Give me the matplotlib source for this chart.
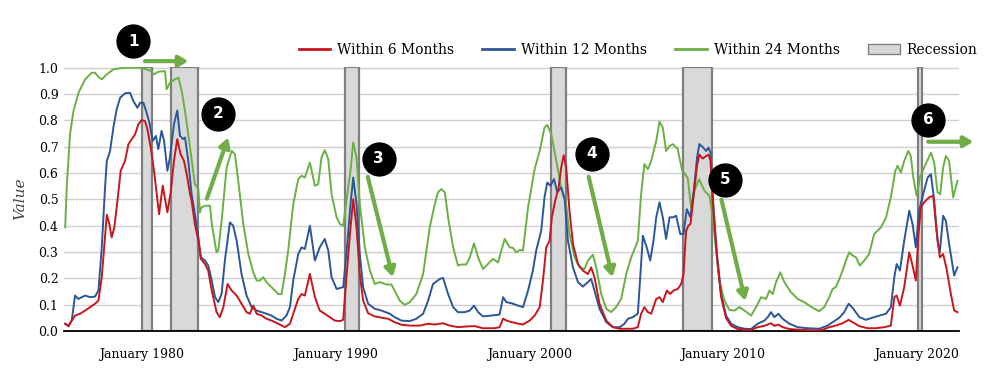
import matplotlib
matplotlib.use("Agg")
import matplotlib.pyplot as plt
from matplotlib.lines import Line2D
from matplotlib.patches import Patch

# ── Data ──────────────────────────────────────────────────────────────
green_t = [1976.03, 1976.11, 1976.28, 1976.46, 1976.72, 1977.06, 1977.40, 1977.57, 1977.75, 1977.92,
           1978.18, 1978.52, 1979.04, 1979.90, 1980.41, 1980.62, 1980.84, 1981.19, 1981.27, 1981.44,
           1981.70, 1981.88, 1982.05, 1982.22, 1982.48, 1982.73, 1982.91, 1982.99, 1983.08, 1983.25,
           1983.51, 1983.60, 1983.85, 1983.94, 1984.11, 1984.37, 1984.63, 1984.80, 1984.97, 1985.23,
           1985.49, 1985.75, 1985.92, 1986.09, 1986.26, 1986.43, 1986.69, 1987.04, 1987.21, 1987.38,
           1987.55, 1987.81, 1988.07, 1988.24, 1988.41, 1988.67, 1988.93, 1989.10, 1989.27, 1989.44,
           1989.62, 1989.79, 1990.05, 1990.22, 1990.39, 1990.56, 1990.77, 1990.91, 1991.08, 1991.25,
           1991.51, 1991.77, 1992.02, 1992.28, 1992.63, 1992.88, 1993.05, 1993.31, 1993.57, 1993.83,
           1994.17, 1994.52, 1994.86, 1995.12, 1995.29, 1995.46, 1995.64, 1995.81, 1996.07, 1996.32,
           1996.50, 1996.75, 1996.93, 1997.15, 1997.36, 1997.61, 1997.87, 1998.13, 1998.39, 1998.56,
           1998.73, 1998.99, 1999.16, 1999.33, 1999.51, 1999.68, 1999.94, 2000.28, 2000.54, 2000.79,
           2000.93, 2001.14, 2001.40, 2001.65, 2001.91, 2002.08, 2002.34, 2002.60, 2002.86, 2003.03,
           2003.29, 2003.46, 2003.72, 2003.98, 2004.23, 2004.49, 2004.75, 2005.01, 2005.27, 2005.44,
           2005.61, 2005.78, 2005.95, 2006.13, 2006.30, 2006.56, 2006.73, 2006.90, 2007.07, 2007.25,
           2007.42, 2007.67, 2007.90, 2008.02, 2008.19, 2008.36, 2008.50, 2008.77, 2009.05, 2009.31,
           2009.48, 2009.65, 2009.82, 2010.08, 2010.34, 2010.60, 2010.86, 2011.12, 2011.46, 2011.72,
           2011.98, 2012.23, 2012.41, 2012.58, 2012.75, 2012.97, 2013.18, 2013.52, 2013.87, 2014.21,
           2014.47, 2014.73, 2014.98, 2015.24, 2015.50, 2015.67, 2015.84, 2016.02, 2016.19, 2016.36,
           2016.53, 2016.71, 2016.88, 2017.08, 2017.31, 2017.56, 2017.82, 2017.99, 2018.17, 2018.43,
           2018.68, 2018.91, 2019.03, 2019.20, 2019.37, 2019.58, 2019.71, 2019.84, 2020.01, 2020.18,
           2020.40, 2020.75, 2020.92, 2021.09, 2021.23, 2021.38, 2021.52, 2021.69, 2021.90, 2022.12]
green_v = [0.394, 0.545, 0.747, 0.836, 0.905, 0.956, 0.981, 0.981, 0.965, 0.956,
           0.975, 0.994, 1.000, 1.000, 0.990, 0.975, 0.985, 0.987, 0.918, 0.943,
           0.956, 0.962, 0.912, 0.836, 0.697, 0.558, 0.539, 0.451, 0.470, 0.476,
           0.476, 0.407, 0.299, 0.306, 0.419, 0.621, 0.684, 0.672, 0.571, 0.407,
           0.293, 0.223, 0.192, 0.192, 0.205, 0.186, 0.167, 0.141, 0.141, 0.217,
           0.306, 0.482, 0.577, 0.590, 0.583, 0.640, 0.552, 0.558, 0.659, 0.687,
           0.653, 0.520, 0.432, 0.407, 0.400, 0.495, 0.609, 0.716, 0.659, 0.482,
           0.318, 0.230, 0.179, 0.186, 0.177, 0.177, 0.154, 0.116, 0.100, 0.110,
           0.141, 0.217, 0.394, 0.482, 0.527, 0.539, 0.527, 0.432, 0.318, 0.249,
           0.253, 0.253, 0.280, 0.333, 0.280, 0.236, 0.255, 0.274, 0.261, 0.306,
           0.350, 0.318, 0.316, 0.299, 0.308, 0.306, 0.470, 0.615, 0.684, 0.773,
           0.783, 0.747, 0.646, 0.545, 0.482, 0.369, 0.280, 0.242, 0.236, 0.268,
           0.290, 0.242, 0.141, 0.085, 0.072, 0.091, 0.122, 0.217, 0.280, 0.312,
           0.343, 0.520, 0.634, 0.615, 0.646, 0.722, 0.795, 0.773, 0.684, 0.703,
           0.710, 0.691, 0.609, 0.600, 0.580, 0.470, 0.527, 0.577, 0.533, 0.514,
           0.432, 0.306, 0.192, 0.116, 0.081, 0.078, 0.091, 0.078, 0.059, 0.091,
           0.129, 0.122, 0.154, 0.141, 0.186, 0.223, 0.186, 0.148, 0.122, 0.110,
           0.097, 0.085, 0.076, 0.091, 0.129, 0.160, 0.167, 0.198, 0.230, 0.268,
           0.299, 0.287, 0.280, 0.249, 0.268, 0.293, 0.369, 0.381, 0.394, 0.432,
           0.508, 0.609, 0.628, 0.602, 0.646, 0.684, 0.665, 0.583, 0.514, 0.583,
           0.621, 0.678, 0.640, 0.527, 0.520, 0.621, 0.665, 0.646, 0.508, 0.571]

blue_t = [1976.03, 1976.20, 1976.37, 1976.54, 1976.71, 1976.89, 1977.06, 1977.32, 1977.57, 1977.75,
          1977.92, 1978.09, 1978.18, 1978.35, 1978.52, 1978.69, 1978.87, 1979.12, 1979.38, 1979.55,
          1979.76, 1979.90, 1980.07, 1980.21, 1980.38, 1980.55, 1980.72, 1980.84, 1981.01, 1981.14,
          1981.31, 1981.44, 1981.65, 1981.82, 1981.96, 1982.13, 1982.22, 1982.39, 1982.56, 1982.73,
          1982.91, 1983.04, 1983.25, 1983.42, 1983.60, 1983.77, 1983.94, 1984.11, 1984.28, 1984.54,
          1984.71, 1984.89, 1985.14, 1985.40, 1985.66, 1985.92, 1986.18, 1986.43, 1986.69, 1986.95,
          1987.21, 1987.46, 1987.64, 1987.81, 1988.07, 1988.24, 1988.41, 1988.67, 1988.93, 1989.18,
          1989.44, 1989.62, 1989.79, 1990.05, 1990.39, 1990.56, 1990.77, 1990.91, 1991.08, 1991.25,
          1991.42, 1991.68, 1992.02, 1992.37, 1992.80, 1993.05, 1993.40, 1993.83, 1994.17, 1994.52,
          1994.78, 1995.03, 1995.38, 1995.55, 1995.81, 1996.07, 1996.32, 1996.67, 1996.93, 1997.15,
          1997.36, 1997.61, 1998.04, 1998.47, 1998.65, 1998.82, 1999.08, 1999.42, 1999.68, 1999.94,
          2000.19, 2000.36, 2000.62, 2000.79, 2000.93, 2001.10, 2001.28, 2001.45, 2001.65, 2001.83,
          2002.00, 2002.26, 2002.52, 2002.77, 2003.03, 2003.20, 2003.37, 2003.63, 2003.98, 2004.32,
          2004.67, 2004.92, 2005.10, 2005.35, 2005.61, 2005.78, 2005.87, 2006.07, 2006.25, 2006.42,
          2006.56, 2006.73, 2006.90, 2007.07, 2007.25, 2007.42, 2007.59, 2007.80, 2007.97, 2008.14,
          2008.33, 2008.50, 2008.67, 2008.79, 2008.96, 2009.14, 2009.26, 2009.36, 2009.53, 2009.70,
          2009.91, 2010.17, 2010.43, 2010.77, 2011.12, 2011.46, 2011.80, 2012.15, 2012.32, 2012.49,
          2012.66, 2012.87, 2013.09, 2013.44, 2013.87, 2014.38, 2014.98, 2015.41, 2015.67, 2016.02,
          2016.27, 2016.50, 2016.71, 2017.05, 2017.39, 2017.74, 2018.08, 2018.43, 2018.68, 2018.86,
          2018.98, 2019.15, 2019.37, 2019.63, 2019.80, 2019.97, 2020.14, 2020.35, 2020.58, 2020.75,
          2020.92, 2021.09, 2021.21, 2021.38, 2021.52, 2021.69, 2021.95, 2022.12]
blue_v = [0.028, 0.021, 0.040, 0.135, 0.122, 0.129, 0.135, 0.129, 0.131, 0.154,
          0.318, 0.545, 0.646, 0.684, 0.773, 0.842, 0.886, 0.903, 0.905, 0.874,
          0.848, 0.867, 0.867, 0.836, 0.792, 0.722, 0.741, 0.691, 0.760, 0.722,
          0.609, 0.659, 0.785, 0.838, 0.741, 0.729, 0.735, 0.646, 0.520, 0.444,
          0.356, 0.280, 0.268, 0.249, 0.192, 0.129, 0.110, 0.141, 0.268, 0.413,
          0.400, 0.343, 0.217, 0.135, 0.091, 0.078, 0.072, 0.066, 0.059, 0.047,
          0.040, 0.059, 0.091, 0.192, 0.293, 0.318, 0.312, 0.400, 0.268, 0.318,
          0.350, 0.306, 0.205, 0.160, 0.167, 0.293, 0.482, 0.583, 0.482, 0.293,
          0.167, 0.104, 0.085, 0.078, 0.066, 0.053, 0.040, 0.038, 0.047, 0.066,
          0.116, 0.179, 0.198, 0.202, 0.141, 0.091, 0.072, 0.072, 0.078, 0.097,
          0.072, 0.056, 0.059, 0.063, 0.129, 0.110, 0.106, 0.097, 0.091, 0.154,
          0.230, 0.306, 0.381, 0.508, 0.564, 0.552, 0.577, 0.527, 0.545, 0.501,
          0.343, 0.242, 0.186, 0.169, 0.186, 0.198, 0.154, 0.085, 0.034, 0.015,
          0.015, 0.028, 0.047, 0.053, 0.066, 0.255, 0.362, 0.318, 0.268, 0.343,
          0.432, 0.489, 0.432, 0.350, 0.432, 0.432, 0.438, 0.369, 0.369, 0.463,
          0.432, 0.533, 0.659, 0.710, 0.699, 0.684, 0.697, 0.678, 0.457, 0.293,
          0.141, 0.059, 0.028, 0.015, 0.009, 0.008, 0.028, 0.040, 0.053, 0.072,
          0.053, 0.066, 0.047, 0.028, 0.015, 0.011, 0.009, 0.021, 0.034, 0.051,
          0.072, 0.104, 0.088, 0.053, 0.043, 0.051, 0.059, 0.066, 0.091, 0.205,
          0.255, 0.230, 0.343, 0.457, 0.407, 0.318, 0.457, 0.520, 0.583, 0.596,
          0.495, 0.343, 0.299, 0.438, 0.419, 0.331, 0.211, 0.242]

red_t = [1976.03, 1976.20, 1976.37, 1976.54, 1976.80, 1977.06, 1977.32, 1977.57, 1977.75, 1977.92,
         1978.09, 1978.18, 1978.31, 1978.43, 1978.57, 1978.73, 1978.90, 1979.12, 1979.30, 1979.47,
         1979.64, 1979.81, 1979.98, 1980.15, 1980.28, 1980.45, 1980.62, 1980.76, 1980.88, 1981.07,
         1981.24, 1981.31, 1981.48, 1981.65, 1981.82, 1981.99, 1982.17, 1982.34, 1982.48, 1982.56,
         1982.73, 1982.91, 1983.04, 1983.25, 1983.42, 1983.60, 1983.85, 1984.02, 1984.20, 1984.42,
         1984.63, 1984.89, 1985.14, 1985.40, 1985.57, 1985.75, 1985.92, 1986.18, 1986.43, 1986.69,
         1987.04, 1987.38, 1987.64, 1987.81, 1988.07, 1988.24, 1988.41, 1988.67, 1988.93, 1989.18,
         1989.44, 1989.70, 1989.96, 1990.22, 1990.39, 1990.56, 1990.77, 1990.91, 1991.08, 1991.25,
         1991.42, 1991.68, 1992.02, 1992.37, 1992.71, 1993.05, 1993.40, 1993.83, 1994.34, 1994.78,
         1995.12, 1995.55, 1995.89, 1996.32, 1996.84, 1997.18, 1997.61, 1998.21, 1998.47, 1998.65,
         1998.90, 1999.33, 1999.68, 2000.02, 2000.28, 2000.54, 2000.71, 2000.88, 2001.05, 2001.17,
         2001.34, 2001.52, 2001.65, 2001.78, 2001.91, 2002.08, 2002.26, 2002.52, 2002.77, 2003.03,
         2003.20, 2003.37, 2003.63, 2003.98, 2004.32, 2004.67, 2005.01, 2005.35, 2005.61, 2005.78,
         2005.95, 2006.13, 2006.30, 2006.56, 2006.73, 2006.90, 2007.11, 2007.28, 2007.45, 2007.67,
         2007.85, 2007.97, 2008.10, 2008.22, 2008.33, 2008.50, 2008.67, 2008.79, 2008.96, 2009.14,
         2009.26, 2009.36, 2009.53, 2009.70, 2009.91, 2010.17, 2010.43, 2010.77, 2011.12, 2011.46,
         2011.80, 2012.15, 2012.49, 2012.66, 2012.87, 2013.09, 2013.44, 2014.00, 2014.73, 2015.16,
         2015.50, 2015.84, 2016.19, 2016.50, 2016.71, 2017.05, 2017.48, 2017.91, 2018.34, 2018.68,
         2018.86, 2018.98, 2019.15, 2019.37, 2019.63, 2019.80, 2019.97, 2020.11, 2020.23, 2020.40,
         2020.66, 2020.87, 2021.04, 2021.21, 2021.38, 2021.56, 2021.78, 2021.95, 2022.12]
red_v = [0.028, 0.018, 0.040, 0.059, 0.066, 0.078, 0.091, 0.104, 0.116, 0.205,
         0.362, 0.442, 0.407, 0.356, 0.394, 0.495, 0.609, 0.646, 0.710, 0.729,
         0.747, 0.785, 0.801, 0.798, 0.766, 0.697, 0.609, 0.520, 0.444, 0.552,
         0.482, 0.451, 0.527, 0.646, 0.729, 0.672, 0.646, 0.583, 0.520, 0.495,
         0.407, 0.343, 0.274, 0.255, 0.230, 0.154, 0.072, 0.053, 0.091, 0.179,
         0.154, 0.135, 0.104, 0.072, 0.066, 0.097, 0.066, 0.059, 0.047, 0.040,
         0.028, 0.015, 0.028, 0.066, 0.122, 0.141, 0.135, 0.217, 0.129, 0.078,
         0.066, 0.053, 0.040, 0.038, 0.043, 0.205, 0.394, 0.501, 0.394, 0.217,
         0.116, 0.068, 0.056, 0.051, 0.047, 0.034, 0.024, 0.021, 0.021, 0.028,
         0.025, 0.030, 0.021, 0.015, 0.018, 0.019, 0.011, 0.011, 0.015, 0.047,
         0.038, 0.030, 0.025, 0.040, 0.059, 0.091, 0.192, 0.318, 0.343, 0.432,
         0.495, 0.545, 0.620, 0.668, 0.621, 0.457, 0.331, 0.255, 0.230, 0.217,
         0.242, 0.205, 0.104, 0.040, 0.015, 0.009, 0.009, 0.009, 0.015, 0.066,
         0.091, 0.072, 0.066, 0.122, 0.129, 0.110, 0.154, 0.141, 0.154, 0.160,
         0.179, 0.217, 0.380, 0.400, 0.407, 0.520, 0.630, 0.670, 0.655, 0.665,
         0.670, 0.650, 0.440, 0.280, 0.130, 0.050, 0.020, 0.008, 0.005, 0.005,
         0.015, 0.020, 0.030, 0.020, 0.025, 0.015, 0.008, 0.005, 0.003, 0.005,
         0.015, 0.021, 0.030, 0.043, 0.034, 0.019, 0.011, 0.011, 0.015, 0.021,
         0.129, 0.135, 0.097, 0.167, 0.299, 0.249, 0.192, 0.369, 0.470, 0.489,
         0.508, 0.514, 0.381, 0.280, 0.293, 0.236, 0.141, 0.078, 0.072]

rec_start = [1980.00, 1981.50, 1990.50, 2001.15, 2007.92, 2020.08]
rec_end   = [1980.50, 1982.87, 1991.20, 2001.90, 2009.45, 2020.30]

xtick_years  = [1980, 1990, 2000, 2010, 2020]
xtick_labels = ["January 1980", "January 1990", "January 2000", "January 2010", "January 2020"]

# callouts: number, circle position, arrow start, arrow end
callout_num = ["1", "2", "3", "4", "5", "6"]
callout_xy  = [(1979.54, 1.101), (1983.92, 0.825), (1992.23, 0.654),
               (2003.22, 0.673), (2010.13, 0.575), (2020.61, 0.802)]
arrow_from  = [(1980.15, 1.025), (1983.35, 0.503), (1991.66, 0.586),
               (2003.07, 0.586), (2009.93, 0.499), (2020.61, 0.719)]
arrow_to    = [(1982.40, 1.025), (1984.45, 0.735), (1992.95, 0.205),
               (2004.30, 0.205), (2011.16, 0.115), (2022.95, 0.719)]

RED   = "#c8161d"
BLUE  = "#2b5797"
GREEN = "#6ab043"
ARROW = "#70ad47"

# ── Plot ──────────────────────────────────────────────────────────────
fig = plt.figure(figsize=(10.08, 3.78), dpi=100)
ax  = fig.add_axes([0.0635, 0.124, 0.8875, 0.6996])

for s, e in zip(rec_start, rec_end):
    ax.axvspan(s, e, facecolor="#d9d9d9", edgecolor="#7f7f7f", lw=1.6, zorder=1)

ax.plot(green_t, green_v, color=GREEN, lw=1.4, zorder=3)
ax.plot(blue_t,  blue_v,  color=BLUE,  lw=1.4, zorder=4)
ax.plot(red_t,   red_v,   color=RED,   lw=1.4, zorder=5)

ax.set_xlim(1975.97, 2022.18)
ax.set_ylim(0, 1.004)
ax.set_yticks([i / 10 for i in range(11)])
ax.set_yticklabels([f"{i / 10:.1f}" for i in range(11)], family="DejaVu Serif", fontsize=9)
ax.set_xticks(xtick_years)
ax.set_xticklabels(xtick_labels, family="DejaVu Serif", fontsize=9)
ax.tick_params(axis="both", length=0)
ax.tick_params(axis="x", pad=12)
ax.tick_params(axis="y", pad=4)
ax.grid(axis="y", color="#d0d0d0", lw=1.0, zorder=0)
ax.set_axisbelow(True)
for sp in ["top", "right", "left"]:
    ax.spines[sp].set_visible(False)
ax.spines["bottom"].set_color("black")
ax.spines["bottom"].set_linewidth(1.3)
ax.set_ylabel("Value", family="DejaVu Serif", style="italic", fontsize=11,
              color="#444444", labelpad=8)

# callouts
for num, c, a0, a1 in zip(callout_num, callout_xy, arrow_from, arrow_to):
    ax.annotate("", xy=a1, xytext=a0, annotation_clip=False, zorder=8,
                arrowprops=dict(arrowstyle="-|>,head_length=0.55,head_width=0.32",
                                color=ARROW, lw=3.0, shrinkA=0, shrinkB=0))
    ax.scatter([c[0]], [c[1]], s=560, color="black", zorder=9, clip_on=False)
    ax.text(c[0], c[1], num, color="white", fontsize=11, fontweight="bold",
            ha="center", va="center", zorder=10)

handles = [Line2D([], [], color=RED, lw=2),
           Line2D([], [], color=BLUE, lw=2),
           Line2D([], [], color=GREEN, lw=2),
           Patch(facecolor="#d9d9d9", edgecolor="#7f7f7f")]
labels = ["Within 6 Months", "Within 12 Months", "Within 24 Months", "Recession"]
ax.legend(handles, labels, ncol=4, loc="lower right", bbox_to_anchor=(1.035, 0.99),
          frameon=False, prop={"family": "DejaVu Serif", "size": 10},
          handlelength=2.3, columnspacing=2.0, handletextpad=0.5)

fig.savefig("out.png", dpi=100)
